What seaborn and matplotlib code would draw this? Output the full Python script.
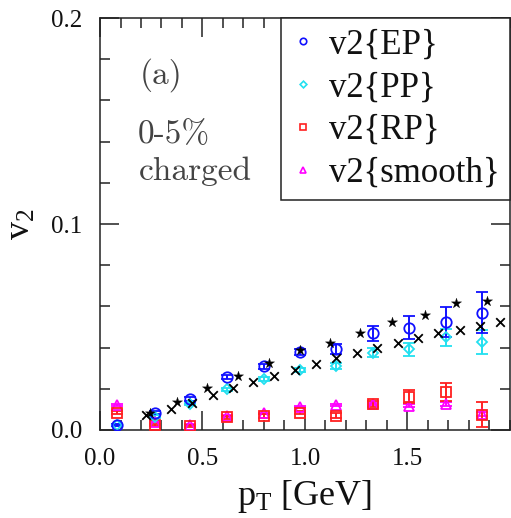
import numpy as np
import pandas as pd
import seaborn as sns
import matplotlib
matplotlib.use("Agg")
import matplotlib.pyplot as plt
from matplotlib.lines import Line2D
from matplotlib.ticker import MultipleLocator

# bin centres shared by the four v2 estimates
pt_bins = [0.085, 0.268, 0.44, 0.618, 0.798, 0.976, 1.152, 1.33, 1.509, 1.686, 1.862]

v2_ep = [0.0024, 0.0084, 0.0150, 0.0256, 0.0310, 0.0380, 0.0392, 0.0469, 0.0497, 0.0526, 0.0569]
v2_ep_err = [0.0006, 0.0008, 0.0009, 0.0010, 0.0012, 0.0015, 0.0025, 0.0036, 0.0055, 0.0073, 0.0099]

v2_pp = [0.0024, 0.0065, 0.0126, 0.0198, 0.0246, 0.0290, 0.0310, 0.0375, 0.0392, 0.0450, 0.0426]
v2_pp_err = [0.0005, 0.0006, 0.0007, 0.0008, 0.0009, 0.0010, 0.0014, 0.0022, 0.0031, 0.0040, 0.0057]

v2_rp = [0.0084, 0.0024, 0.0020, 0.0062, 0.0068, 0.0084, 0.0068, 0.0126, 0.0162, 0.0186, 0.0073]
v2_rp_err = [0.0006, 0.0006, 0.0006, 0.0007, 0.0008, 0.0009, 0.0012, 0.0016, 0.0032, 0.0044, 0.0061]

v2_smooth = [0.0121, 0.0040, 0.0025, 0.0068, 0.0080, 0.0113, 0.0121, 0.0126, 0.0118, 0.0126, 0.0076]
v2_smooth_err = [0.0003, 0.0003, 0.0003, 0.0003, 0.0003, 0.0004, 0.0004, 0.0005, 0.0008, 0.0009, 0.0010]

# comparison data (stars and crosses)
star_pt = [0.244, 0.374, 0.523, 0.675, 0.826, 0.976, 1.122, 1.27, 1.423, 1.585, 1.737, 1.886]
star_v2 = [0.0084, 0.0134, 0.0202, 0.0264, 0.0327, 0.0390, 0.0424, 0.0472, 0.0524, 0.0558, 0.0618, 0.0628]

cross_pt = [0.224, 0.344, 0.447, 0.55, 0.65, 0.748, 0.847, 0.951, 1.052, 1.152, 1.252, 1.353,
            1.452, 1.553, 1.65, 1.755, 1.854, 1.953]
cross_v2 = [0.0073, 0.0100, 0.0133, 0.0170, 0.0205, 0.0235, 0.0263, 0.0290, 0.0320, 0.0348,
            0.0372, 0.0400, 0.0421, 0.0445, 0.0472, 0.0485, 0.0505, 0.0525]

series_labels = ["v2{EP}", "v2{PP}", "v2{RP}", "v2{smooth}"]
x_ticks = [0.0, 0.5, 1.0, 1.5]
y_ticks = [0.0, 0.1, 0.2]

sns.set_theme(style="ticks")
serif = "Liberation Serif"
plt.rcParams["font.family"] = [serif, "DejaVu Serif"]
plt.rcParams["mathtext.fontset"] = "custom"
plt.rcParams["mathtext.rm"] = serif
plt.rcParams["mathtext.it"] = serif + ":italic"

fig = plt.figure(figsize=(5.11, 5.18), dpi=100)
ax = fig.add_axes([0.1957, 0.170, 0.8023, 0.795])

styles = [
    (v2_ep, v2_ep_err, "o", "#1010ff"),
    (v2_pp, v2_pp_err, "D", "#22e0f0"),
    (v2_rp, v2_rp_err, "s", "#ff2020"),
    (v2_smooth, v2_smooth_err, "^", "#ff00ff"),
]
ms = {"o": 7.5, "D": 5.5, "s": 7.0, "^": 7.5}
for vals, errs, mk, col in reversed(styles):
    ax.errorbar(pt_bins, vals, yerr=errs, fmt=mk, ms=ms[mk], mfc="none", mec=col,
                mew=1.3, ecolor=col, elinewidth=1.4, capsize=4.5, capthick=1.4, zorder=3)

ref = pd.DataFrame({"pt": star_pt, "v2": star_v2})
sns.scatterplot(data=ref, x="pt", y="v2", marker="*", s=60, color="black",
                edgecolor="black", linewidth=0.2, ax=ax, zorder=4)
ref2 = pd.DataFrame({"pt": cross_pt, "v2": cross_v2})
sns.scatterplot(data=ref2, x="pt", y="v2", marker="x", s=38, color="black",
                linewidth=1.3, ax=ax, zorder=4)

ax.set_xlim(0.0, 2.0)
ax.set_ylim(0.0, 0.2)
ax.set_xticks(x_ticks)
ax.set_xticklabels([f"{t:.1f}" for t in x_ticks])
ax.set_yticks(y_ticks)
ax.set_yticklabels([f"{t:.1f}" for t in y_ticks])
ax.xaxis.set_minor_locator(MultipleLocator(0.1))
ax.yaxis.set_minor_locator(MultipleLocator(0.02))
ax.tick_params(which="both", direction="in", top=True, right=True, colors="#222222",
               labelcolor="#111111", labelsize=18, pad=13)
ax.tick_params(which="major", length=14, width=1.1)
ax.tick_params(which="minor", length=7, width=1.1)
for sp in ax.spines.values():
    sp.set_linewidth(1.1)
    sp.set_color("#222222")

ax.set_xlabel(r"$\mathrm{p_T}$ [GeV]", fontsize=26, color="#111111", labelpad=6)
ax.set_ylabel(r"$\mathrm{v_2}$", fontsize=26, color="#111111", labelpad=9)

# panel notes in Computer Modern
note_col = "#444444"
note_kw = dict(transform=ax.transAxes, fontsize=24, color=note_col, va="baseline",
               family="cmr10")
ax.text(0.097, 0.842, "(a)", **note_kw)
ax.text(0.093, 0.697, "0-5%", **note_kw)
ax.text(0.095, 0.607, "charged", **note_kw)

handles = [Line2D([], [], ls="none", marker=mk, ms=ms[mk] * 0.62, mfc="none", mec=col, mew=1.2)
           for _, _, mk, col in styles]
leg = ax.legend(handles, series_labels, loc="upper right", bbox_to_anchor=(1.0, 1.0),
                borderaxespad=0.0, frameon=True, fancybox=False, framealpha=1.0,
                edgecolor="#222222", fontsize=25, handlelength=0.65, handletextpad=0.42,
                labelspacing=0.28, borderpad=0.3)
leg.get_frame().set_linewidth(1.1)
for t in leg.get_texts():
    t.set_color("#111111")

fig.savefig("out.png", dpi=100)
